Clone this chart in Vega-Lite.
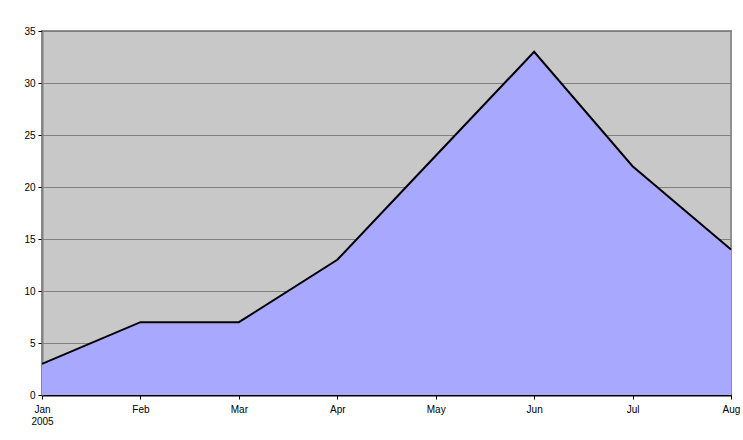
{
  "$schema": "https://vega.github.io/schema/vega-lite/v6.json",
  "width": 689,
  "height": 364,
  "autosize": {"type": "none"},
  "padding": {"left": 42, "top": 31, "right": 12, "bottom": 45},
  "background": "white",
  "config": {
    "view": {"fill": "#C8C8C8", "stroke": "#909090", "strokeWidth": 2},
    "font": "Liberation Sans"
  },
  "data": {
    "values": [
      {"month": "Jan", "value": 3},
      {"month": "Feb", "value": 7},
      {"month": "Mar", "value": 7},
      {"month": "Apr", "value": 13},
      {"month": "May", "value": 23},
      {"month": "Jun", "value": 33},
      {"month": "Jul", "value": 22},
      {"month": "Aug", "value": 14}
    ]
  },
  "encoding": {
    "x": {
      "field": "month", "type": "ordinal", "sort": null,
      "scale": {"type": "point", "padding": 0},
      "axis": {
        "title": null, "labelAngle": 0, "labelFontSize": 10, "labelColor": "#000",
        "domainColor": "#000", "domainWidth": 2, "tickColor": "#000", "tickSize": 4,
        "labelPadding": 5, "grid": false,
        "labelExpr": "datum.value == 'Jan' ? ['Jan', '2005'] : datum.value"
      }
    },
    "y": {
      "field": "value", "type": "quantitative",
      "scale": {"domain": [0, 35], "nice": false},
      "axis": {
        "title": null, "values": [0,5,10,15,20,25,30,35], "labelFontSize": 10, "labelColor": "#000",
        "domainColor": "#808080", "domainWidth": 2, "tickColor": "#000", "tickSize": 4,
        "labelPadding": 3, "gridColor": "#808080", "gridWidth": 1, "gridOpacity": 1
      }
    }
  },
  "layer": [
    {"mark": {"type": "area", "color": "#A8A8FF", "opacity": 1}},
    {"mark": {"type": "line", "color": "#000", "strokeWidth": 2}}
  ]
}
